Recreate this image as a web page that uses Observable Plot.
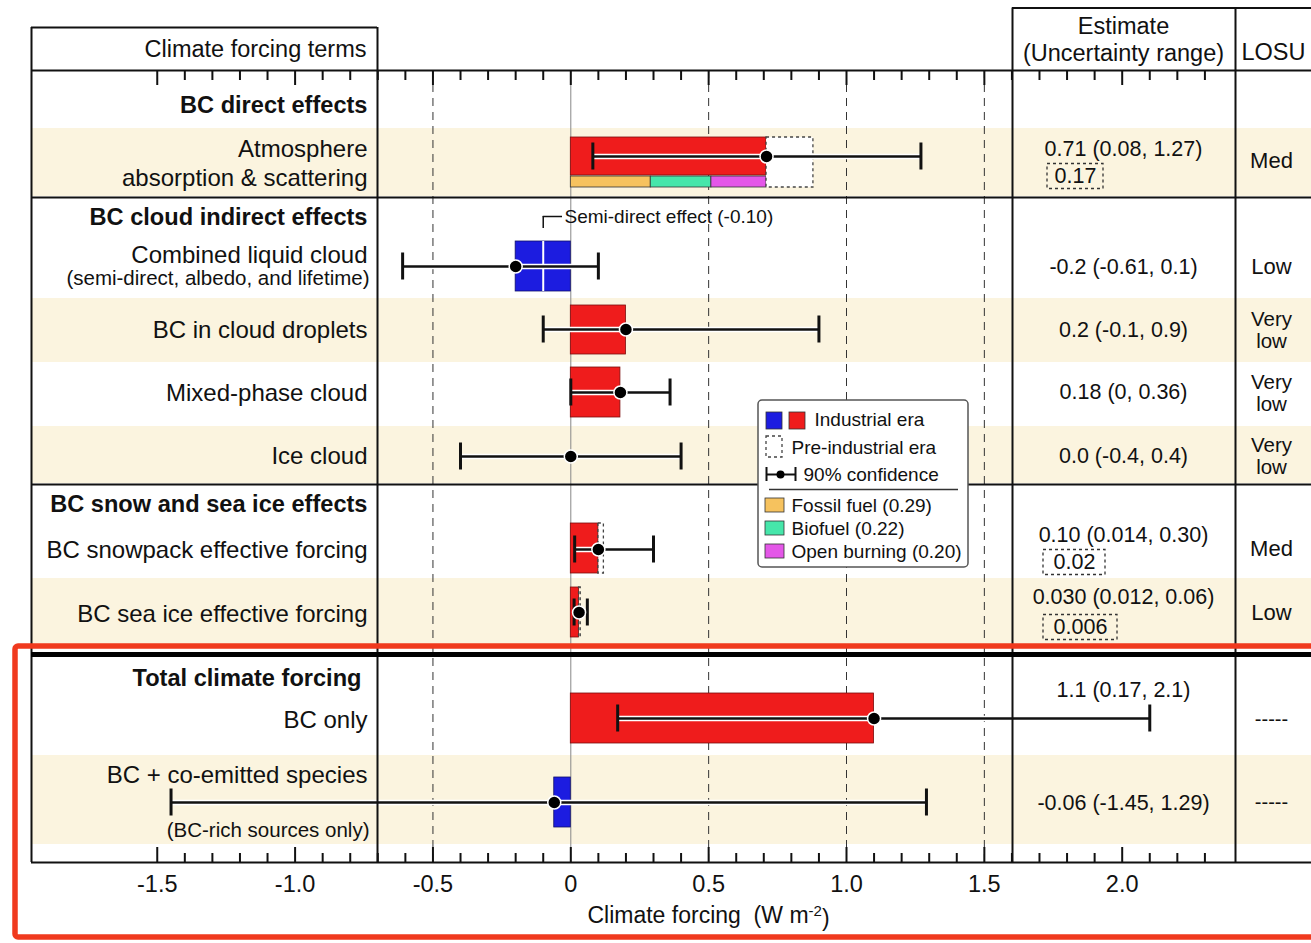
<!DOCTYPE html>
<html>
<head>
<meta charset="utf-8">
<script src="https://cdn.jsdelivr.net/npm/d3@7"></script>
<script src="https://cdn.jsdelivr.net/npm/@observablehq/plot@0.6"></script>
<style>
html, body { margin: 0; padding: 0; background: #fff; }
#chart { position: relative; width: 1311px; height: 943px; overflow: hidden; }
#chart svg text { white-space: pre; }
</style>
</head>
<body>
<div id="chart"></div>
<script>
// ---------------- data ----------------
const groups = ["BC direct effects", "BC cloud indirect effects", "BC snow and sea ice effects", "Total climate forcing"];
const terms = ["Atmosphere\nabsorption & scattering", "Combined liquid cloud", "BC in cloud droplets", "Mixed-phase cloud", "Ice cloud",
               "BC snowpack effective forcing", "BC sea ice effective forcing", "BC only", "BC + co-emitted species"];
const termNotes = [null, "(semi-direct, albedo, and lifetime)", null, null, null, null, null, null, "(BC-rich sources only)"];
const estimate = [0.71, -0.2, 0.2, 0.18, 0.0, 0.10, 0.030, 1.1, -0.06];
const lower = [0.08, -0.61, -0.1, 0, -0.4, 0.014, 0.012, 0.17, -1.45];
const upper = [1.27, 0.1, 0.9, 0.36, 0.4, 0.30, 0.06, 2.1, 1.29];
const preIndustrial = [0.17, null, null, null, null, 0.02, 0.006, null, null];
const estimateText = ["0.71 (0.08, 1.27)", "-0.2 (-0.61, 0.1)", "0.2 (-0.1, 0.9)", "0.18 (0, 0.36)", "0.0 (-0.4, 0.4)",
                      "0.10 (0.014, 0.30)", "0.030 (0.012, 0.06)", "1.1 (0.17, 2.1)", "-0.06 (-1.45, 1.29)"];
const preIndustrialText = ["0.17", null, null, null, null, "0.02", "0.006", null, null];
const losu = ["Med", "Low", "Very\nlow", "Very\nlow", "Very\nlow", "Med", "Low", "-----", "-----"];
const sources = ["Fossil fuel", "Biofuel", "Open burning"];
const sourceValues = [0.29, 0.22, 0.20];
const semiDirect = -0.10;
const semiDirectLabel = "Semi-direct effect (-0.10)";
const xTicks = [-1.5, -1.0, -0.5, 0, 0.5, 1.0, 1.5, 2.0];
const xTickLabels = ["-1.5", "-1.0", "-0.5", "0", "0.5", "1.0", "1.5", "2.0"];
const gridValues = [-0.5, 0.5, 1.0, 1.5];
const headers = ["Climate forcing terms", "Estimate\n(Uncertainty range)", "LOSU"];
const legendLabels = ["Industrial era", "Pre-industrial era", "90% confidence"];
const axisTitle = "Climate forcing  (W m-2)";

// ---------------- layout (pixels) ----------------
const W = 1311, H = 943;
const X0 = 570.3, PXU = 275.7;             // zero position and pixels per W m-2
const px = p => (p - X0) / PXU;            // pixel -> data units for table chrome
const rowY = [156, 266, 329, 392, 456, 549, 612, 718, 802];
const barBox = [[137, 175], [241, 291], [305, 354], [367, 417], null, [523, 573], [587, 637], [693, 743], [777, 827]];
const preBox = [[137, 187], null, null, null, null, [523, 573], [587, 637], null, null];
const subBarY = [176, 187];
const labelY = [162, 253, 328, 391, 454, 548, 612, 718, 773];
const noteY = [null, 278, null, null, null, null, null, null, 830];
const groupY = [105, 217, 504, 678];
const groupRight = [367, 367, 367, 361];
const estY = [149, 267, 330, 392, 456, 535, 597, 690, 803];
const preTextPos = [[1075, 176, 28], null, null, null, null, [1074, 562, 31], [1080, 627, 37]];
const losuY = [160, 266, 329, 392, 455, 548, 612, 719, 802];
const bands = [[128, 196], [298, 362], [426, 483], [578, 645], [755, 844]];

const red = "#ef1c1c", blue = "#1c1ce0", beige = "#fbf4df";
const sourceColors = ["#f6c25e", "#46e6aa", "#e457e8"];

const rows = terms.map((t, i) => ({
  i, term: t, est: estimate[i], lo: lower[i], hi: upper[i], pre: preIndustrial[i],
  y: rowY[i], box: barBox[i], pbox: preBox[i]
}));
const barRows = rows.filter(d => d.box && d.est !== 0);
const preRows = rows.filter(d => d.pre != null);
let acc = 0;
const subBars = sources.map((s, k) => { const a = acc; acc += sourceValues[k]; return {s, x1: a, x2: acc, k}; });

const tickVals = d3.range(-15, 24).map(i => i / 10);
const majorTick = v => Math.abs(v * 2 - Math.round(v * 2)) < 1e-6;

const font = "Liberation Sans, Arial, Helvetica, sans-serif";
const lineCol = "#111";

const marks = [
  // shaded bands
  Plot.rect(bands, {x1: () => px(31), x2: () => px(1311), y1: d => d[0], y2: d => d[1], fill: beige}),

  // grid
  Plot.ruleX(gridValues, {y1: 70, y2: 862, stroke: "#333", strokeWidth: 1, strokeDasharray: "8,6"}),
  Plot.ruleX([0], {y1: 70, y2: 862, stroke: "#888", strokeWidth: 1}),

  // industrial-era bars
  Plot.rect(barRows, {x1: () => 0, x2: d => d.est, y1: d => d.box[0], y2: d => d.box[1],
    fill: d => d.est < 0 ? blue : red, stroke: d => d.est < 0 ? "#10106a" : "#7a0d0d", strokeWidth: 0.8}),
  // source breakdown
  Plot.rect(subBars, {x1: "x1", x2: "x2", y1: () => subBarY[0], y2: () => subBarY[1],
    fill: d => sourceColors[d.k], stroke: "#333", strokeWidth: 0.8}),
  // pre-industrial dotted boxes
  Plot.rect(preRows, {x1: d => d.est, x2: d => d.est + d.pre, y1: d => d.pbox[0], y2: d => d.pbox[1],
    fill: d => d.i === 0 ? "white" : "none", stroke: "#444", strokeWidth: 1.3, strokeDasharray: "3,3"}),
  // semi-direct divider
  Plot.ruleX([semiDirect], {y1: 241, y2: 291, stroke: "white", strokeWidth: 2}),
  // semi-direct annotation bracket
  Plot.ruleX([semiDirect], {y1: 216, y2: 228, stroke: lineCol, strokeWidth: 1.5}),
  Plot.ruleY([216], {x1: () => semiDirect, x2: () => px(562), stroke: lineCol, strokeWidth: 1.5}),
  Plot.text([semiDirectLabel], {x: () => px(564), y: () => 216, text: d => d, textAnchor: "start", fontSize: 19, fill: "#111"}),

  // error bars
  Plot.ruleY(rows, {x1: "lo", x2: "hi", y: "y", stroke: "white", strokeWidth: 5.5}),
  Plot.ruleY(rows, {x1: "lo", x2: "hi", y: "y", stroke: lineCol, strokeWidth: 2.5}),
  Plot.ruleX(rows, {x: "lo", y1: d => d.y - 13.5, y2: d => d.y + 13.5, stroke: lineCol, strokeWidth: 3}),
  Plot.ruleX(rows, {x: "hi", y1: d => d.y - 13.5, y2: d => d.y + 13.5, stroke: lineCol, strokeWidth: 3}),
  Plot.dot(rows, {x: "est", y: "y", r: 6.5, fill: "#000", stroke: "white", strokeWidth: 1.5}),

  // table lines
  Plot.ruleY([70, 197, 484, 862], {x1: () => px(31), x2: () => px(1311), stroke: lineCol, strokeWidth: 2}),
  Plot.ruleY([27], {x1: () => px(31), x2: () => px(377), stroke: lineCol, strokeWidth: 2}),
  Plot.ruleY([7.5], {x1: () => px(1012), x2: () => px(1311), stroke: lineCol, strokeWidth: 2}),
  Plot.ruleX([px(31), px(377)], {y1: 27, y2: 862, stroke: lineCol, strokeWidth: 2}),
  Plot.ruleX([px(1012), px(1235)], {y1: 7.5, y2: 862, stroke: lineCol, strokeWidth: 2}),
  Plot.ruleY([654], {x1: () => px(31), x2: () => px(1311), stroke: "#000", strokeWidth: 5}),

  // ticks
  Plot.ruleX(tickVals, {y1: 70, y2: v => 70 + (majorTick(v) ? 15 : 10), stroke: lineCol, strokeWidth: 2}),
  Plot.ruleX(tickVals, {y1: v => 862 - (majorTick(v) ? 15 : 9), y2: 862, stroke: lineCol, strokeWidth: 2}),
  Plot.text(xTicks, {x: d => d, y: () => 884, text: (d, i) => xTickLabels[i], fontSize: 23.5, fill: "#111"}),
  Plot.text([axisTitle], {x: () => px(708), y: () => 915, text: d => d, fontSize: 23, fill: "#111"}),

  // headers
  Plot.text([headers[0]], {x: () => px(366), y: () => 49, text: d => d, textAnchor: "end", fontSize: 23.5, fill: "#111"}),
  Plot.text([headers[1]], {x: () => px(1123), y: () => 38, text: d => d, fontSize: 23.5, lineHeight: 1.15, fill: "#111"}),
  Plot.text([headers[2]], {x: () => px(1273), y: () => 52, text: d => d, fontSize: 23.5, fill: "#111"}),

  // group titles
  Plot.text(groups, {x: (d, i) => px(groupRight[i]), y: (d, i) => groupY[i], text: d => d, textAnchor: "end",
    fontSize: 23.6, fontWeight: "bold", fill: "#111"}),
  // term labels
  Plot.text(rows, {x: () => px(367), y: d => labelY[d.i], text: "term", textAnchor: "end", fontSize: 24, lineHeight: 1.17, fill: "#111"}),
  Plot.text(rows.filter(d => termNotes[d.i]), {x: () => px(369), y: d => noteY[d.i], text: d => termNotes[d.i],
    textAnchor: "end", fontSize: 20.5, fill: "#111"}),

  // estimate column
  Plot.text(rows, {x: () => px(1123), y: d => estY[d.i], text: d => estimateText[d.i], fontSize: 21.5, fill: "#111"}),
  Plot.rect(rows.filter(d => preTextPos[d.i]), {
    x1: d => px(preTextPos[d.i][0] - preTextPos[d.i][2]), x2: d => px(preTextPos[d.i][0] + preTextPos[d.i][2]),
    y1: d => preTextPos[d.i][1] - 12.5, y2: d => preTextPos[d.i][1] + 12.5,
    fill: "none", stroke: "#333", strokeWidth: 1.3, strokeDasharray: "3,3"}),
  Plot.text(rows.filter(d => preTextPos[d.i]), {x: d => px(preTextPos[d.i][0]), y: d => preTextPos[d.i][1],
    text: d => preIndustrialText[d.i], fontSize: 21.5, fill: "#111"}),
  // LOSU column
  Plot.text(rows, {x: () => px(1271), y: d => losuY[d.i], text: d => losu[d.i],
    fontSize: d => losu[d.i].startsWith("-") ? 20 : (losu[d.i].includes("\n") ? 20.5 : 22), lineHeight: 1.08, fill: "#111"}),

  // legend
  Plot.rect([0], {x1: () => px(758), x2: () => px(968), y1: () => 400, y2: () => 567, fill: "white", stroke: "#555", strokeWidth: 1.5, rx: 4}),
  Plot.rect([blue, red], {x1: (d, i) => px(766 + i * 23), x2: (d, i) => px(782 + i * 23), y1: () => 412, y2: () => 429,
    fill: d => d, stroke: "#333", strokeWidth: 0.8}),
  Plot.rect([0], {x1: () => px(766), x2: () => px(782), y1: () => 436, y2: () => 457, fill: "none", stroke: "#444",
    strokeWidth: 1.3, strokeDasharray: "3,3"}),
  Plot.ruleY([474], {x1: () => px(766), x2: () => px(795), stroke: lineCol, strokeWidth: 2}),
  Plot.ruleX([px(766), px(795)], {y1: 467, y2: 481, stroke: lineCol, strokeWidth: 2}),
  Plot.dot([0], {x: () => px(780), y: () => 474, r: 4, fill: "#000"}),
  Plot.text(legendLabels, {x: (d, i) => px([814, 791, 803][i]), y: (d, i) => [419, 447, 474][i], text: d => d,
    textAnchor: "start", fontSize: 19, fill: "#111"}),
  Plot.ruleY([489], {x1: () => px(769), x2: () => px(958), stroke: "#333", strokeWidth: 1.5}),
  Plot.rect(sources, {x1: () => px(765), x2: () => px(784), y1: (d, i) => 498 + i * 23, y2: (d, i) => 512 + i * 23,
    fill: (d, i) => sourceColors[i], stroke: "#333", strokeWidth: 0.8}),
  Plot.text(sources, {x: () => px(791), y: (d, i) => 505 + i * 23, text: (d, i) => `${d} (${sourceValues[i].toFixed(2)})`,
    textAnchor: "start", fontSize: 19, fill: "#111"}),

  // highlight frame
  Plot.rect([0], {x1: () => px(15), x2: () => px(1330), y1: () => 646, y2: () => 937, fill: "none",
    stroke: "#f03a1e", strokeWidth: 5.5, rx: 3})
];

const chart = Plot.plot({
  width: W, height: H, margin: 0,
  x: {domain: [px(0), px(W)], range: [0, W], axis: null},
  y: {domain: [0, H], range: [0, H], axis: null},
  style: {fontFamily: font, background: "white", overflow: "visible"},
  marks
});
document.getElementById("chart").appendChild(chart);

// superscript in the axis title
d3.select(chart).selectAll("text").each(function () {
  if (this.textContent === axisTitle) {
    const t = d3.select(this);
    t.text(null);
    t.append("tspan").text("Climate forcing  (W m");
    t.append("tspan").attr("dy", "-0.45em").attr("font-size", "15").text("-2");
    t.append("tspan").attr("dy", "0.45em").text(")");
  }
});
</script>
</body>
</html>
